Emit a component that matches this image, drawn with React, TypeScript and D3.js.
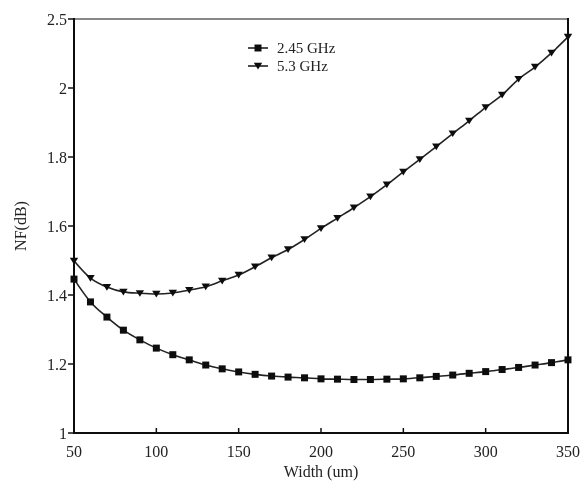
import React from "react";
import * as d3 from "d3";

// Gate width (um) swept in steps of 10
const widths = d3.range(50, 351, 10);

// Noise figure (dB) at 2.45 GHz
const nf245 = [
  1.446, 1.38, 1.336, 1.298, 1.27, 1.246, 1.227, 1.212, 1.197, 1.186,
  1.177, 1.17, 1.165, 1.162, 1.16, 1.157, 1.156, 1.155, 1.155, 1.156,
  1.157, 1.16, 1.164, 1.168, 1.173, 1.178, 1.184, 1.19, 1.197, 1.204,
  1.212,
];

// Noise figure (dB) at 5.3 GHz
const nf53 = [
  1.499, 1.449, 1.423, 1.409, 1.405, 1.403, 1.406, 1.414, 1.424, 1.441,
  1.458, 1.482, 1.508, 1.532, 1.561, 1.593, 1.623, 1.653, 1.685, 1.72,
  1.757, 1.793, 1.83, 1.868, 1.905, 1.944, 1.98, 2.065, 2.152, 2.254,
  2.37,
];

const xTicks = [50, 100, 150, 200, 250, 300, 350];
const yTicks = [1, 1.2, 1.4, 1.6, 1.8, 2, 2.5];
const seriesNames = ["2.45 GHz", "5.3 GHz"];

const W = 586;
const H = 491;
const left = 74;
const right = 568;
const top = 19;
const bottom = 433;

export default function App() {
  const x = d3.scaleLinear().domain([50, 350]).range([left, right]);
  // evenly spaced tick positions along the value axis
  const y = d3
    .scaleLinear()
    .domain(yTicks)
    .range(yTicks.map((_, i) => bottom - (i * (bottom - top)) / (yTicks.length - 1)));

  const line = d3
    .line<number>()
    .x((_, i) => x(widths[i]))
    .y((d) => y(d))
    .curve(d3.curveMonotoneX);

  const font = "'Liberation Serif', 'Times New Roman', serif";
  const sq = 7;
  const tri = (cx: number, cy: number, s: number) =>
    `M${cx - s},${cy - s * 0.75}L${cx + s},${cy - s * 0.75}L${cx},${cy + s * 0.85}Z`;

  return (
    <svg
      width={W}
      height={H}
      style={{ position: "absolute", left: 0, top: 0, background: "#fff" }}
      fontFamily={font}
    >
      <g filter="url(#soft)">
        <defs>
          <filter id="soft">
            <feGaussianBlur stdDeviation="0.35" />
          </filter>
        </defs>

        {/* curves */}
        <path d={line(nf245) ?? ""} fill="none" stroke="#222" strokeWidth={1.6} />
        <path d={line(nf53) ?? ""} fill="none" stroke="#222" strokeWidth={1.6} />

        {nf245.map((v, i) => (
          <rect
            key={"s" + i}
            x={x(widths[i]) - sq / 2}
            y={y(v) - sq / 2}
            width={sq}
            height={sq}
            fill="#111"
          />
        ))}
        {nf53.map((v, i) => (
          <path key={"t" + i} d={tri(x(widths[i]), y(v), 4.2)} fill="#111" />
        ))}

        {/* frame */}
        <line x1={left} x2={right} y1={top} y2={top} stroke="#888" strokeWidth={2.2} />
        <line x1={right} x2={right} y1={top - 1} y2={bottom} stroke="#111" strokeWidth={2} />
        <line x1={left} x2={right + 1} y1={bottom} y2={bottom} stroke="#111" strokeWidth={2} />
        <line x1={left} x2={left} y1={top - 1} y2={bottom + 1} stroke="#111" strokeWidth={2} />

        {/* x ticks */}
        {xTicks.map((t) => (
          <g key={"xt" + t}>
            <line x1={x(t)} x2={x(t)} y1={bottom - 5} y2={bottom + 1} stroke="#111" strokeWidth={1.5} />
            <text x={x(t)} y={bottom + 24} textAnchor="middle" fontSize={16} fill="#222">
              {t}
            </text>
          </g>
        ))}

        {/* y ticks */}
        {yTicks.map((t) => (
          <g key={"yt" + t}>
            <line x1={left - 6} x2={left} y1={y(t)} y2={y(t)} stroke="#111" strokeWidth={1.5} />
            <text x={left - 7} y={y(t) + 5.5} textAnchor="end" fontSize={16} fill="#222">
              {t}
            </text>
          </g>
        ))}

        {/* axis titles */}
        <text x={(left + right) / 2} y={477} textAnchor="middle" fontSize={16} fill="#222">
          Width (um)
        </text>
        <text
          transform={`translate(26,${(top + bottom) / 2}) rotate(-90)`}
          textAnchor="middle"
          fontSize={16}
          fill="#222"
        >
          NF(dB)
        </text>

        {/* legend */}
        {seriesNames.map((name, i) => {
          const ly = 48 + i * 18;
          return (
            <g key={name}>
              <line x1={248} x2={268} y1={ly} y2={ly} stroke="#222" strokeWidth={1.6} />
              {i === 0 ? (
                <rect x={258 - sq / 2} y={ly - sq / 2} width={sq} height={sq} fill="#111" />
              ) : (
                <path d={tri(258, ly, 4.2)} fill="#111" />
              )}
              <text x={277} y={ly + 5} fontSize={15} fill="#222">
                {name}
              </text>
            </g>
          );
        })}
      </g>
    </svg>
  );
}
